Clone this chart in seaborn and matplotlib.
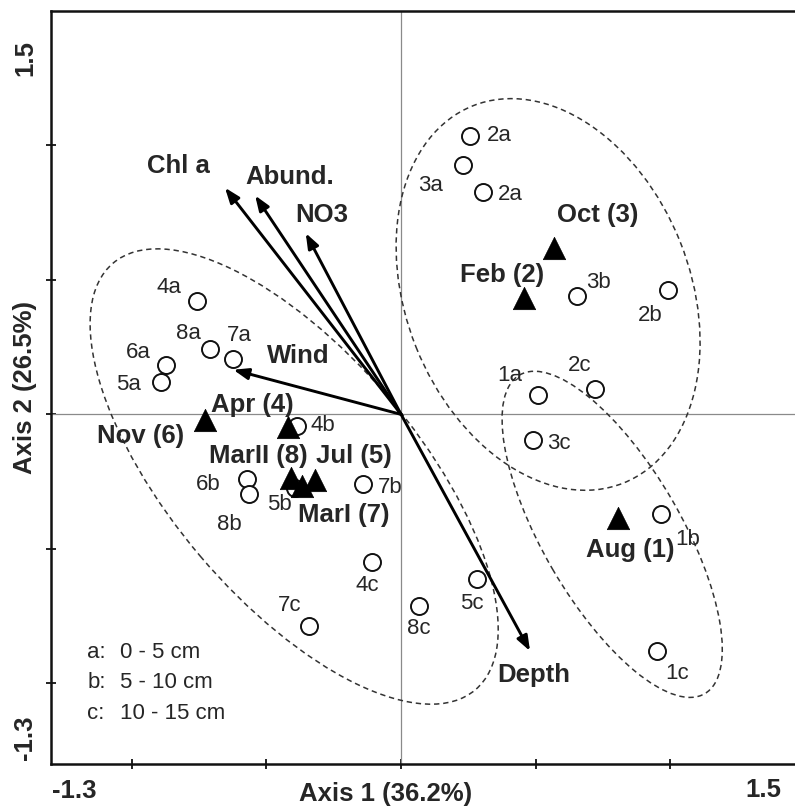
import numpy as np
import pandas as pd
import seaborn as sns
import matplotlib
matplotlib.use("Agg")
import matplotlib.pyplot as plt
from matplotlib.patches import Ellipse

# ---- sample scores (site + depth layer) ----
site_labels = ["2a", "3a", "2a", "3b", "2b", "1a", "2c", "3c", "1b", "1c", "5c", "8c",
               "4c", "7c", "7b", "6b", "8b", "5b", "4b", "4a", "8a", "7a", "6a", "5a"]
site_x = [0.256, 0.229, 0.306, 0.655, 0.993, 0.508, 0.720, 0.491, 0.965, 0.949, 0.281, 0.068,
          -0.109, -0.341, -0.140, -0.573, -0.564, -0.394, -0.387, -0.759, -0.709, -0.625, -0.874, -0.892]
site_y = [1.034, 0.926, 0.827, 0.440, 0.461, 0.071, 0.096, -0.097, -0.372, -0.878, -0.611, -0.714,
          -0.549, -0.788, -0.258, -0.239, -0.295, -0.273, -0.045, 0.421, 0.245, 0.207, 0.185, 0.122]

# ---- sampling months (centroids) ----
month_labels = ["Aug (1)", "Feb (2)", "Oct (3)", "Apr (4)", "Jul (5)", "Nov (6)", "MarI (7)", "MarII (8)"]
month_x = [0.806, 0.457, 0.568, -0.420, -0.319, -0.728, -0.368, -0.408]
month_y = [-0.387, 0.431, 0.617, -0.048, -0.245, -0.019, -0.268, -0.238]

# ---- environmental vectors ----
env_labels = ["Chl a", "Abund.", "NO3", "Wind", "Depth"]
env_x = [-0.654, -0.542, -0.354, -0.623, 0.479]
env_y = [0.843, 0.814, 0.674, 0.166, -0.880]

# ---- axes text ----
x_title = "Axis 1 (36.2%)"
y_title = "Axis 2 (26.5%)"
axis_min, axis_max = -1.3, 1.5
end_labels = ["-1.3", "1.5"]
depth_keys = ["a:", "b:", "c:"]
depth_ranges = ["0 - 5 cm", "5 - 10 cm", "10 - 15 cm"]

# ---- layout: label offsets in pixels (dx, dy) ----
site_offsets = [(29, 1), (-32, -20), (27, -3), (21, 14), (-18, -25), (-28, 20), (-15, 23),
                (26, -3), (27, -25), (21, -23), (-5, -25), (-1, -22), (-4, -23), (-20, 21),
                (27, -4), (-39, -6), (-20, -31), (-16, -17), (26, 1), (-28, 14), (-22, 15),
                (7, 23), (-27, 12), (-32, -3)]
month_offsets = [(12, -32), (-22, 23), (44, 33), (-36, 22), (39, 24), (-64, -16), (42, -29), (-33, 22)]
env_offsets = [(-47, 22), (35, 18), (16, 18), (65, 14), (4, -24)]

# grouping ellipses: centre, width, height, angle (data units)
groups = [((-0.397, -0.231), 2.08, 0.915, -49.7),
          ((0.546, 0.446), 1.51, 1.056, -68.3),
          ((0.784, -0.446), 1.37, 0.513, -59.9)]

sns.set_style("white")
plt.rcParams["font.family"] = ["Liberation Sans", "DejaVu Sans"]

fig = plt.figure(figsize=(7.95, 8.07), dpi=100)
W, H = 795, 807
ax = fig.add_axes([51 / W, 43 / H, 754 / W, 753 / H])
ax.set_xlim(axis_min, axis_max)
ax.set_ylim(axis_min, axis_max)

# centre cross
ax.axhline(0, color="#8a8a8a", lw=0.9, zorder=1)
ax.axvline(0, color="#8a8a8a", lw=0.9, zorder=1)

for (c, w, h, a) in groups:
    ax.add_patch(Ellipse(c, w, h, angle=a, fill=False, ec="#333333", lw=1.1,
                         ls=(0, (3.5, 2.5)), zorder=2))

# environmental arrows
for lab, x, y, off in zip(env_labels, env_x, env_y, env_offsets):
    ax.annotate("", xy=(x, y), xytext=(0, 0),
                arrowprops=dict(arrowstyle="-|>,head_length=0.75,head_width=0.28",
                                lw=2.1, color="black", shrinkA=0, shrinkB=0,
                                mutation_scale=12), zorder=3)
    ax.annotate(lab, xy=(x, y), xytext=off, textcoords="offset pixels",
                ha="center", va="center", fontsize=18.5, fontweight="bold", zorder=5)

sites = pd.DataFrame({"x": site_x, "y": site_y, "label": site_labels})
months = pd.DataFrame({"x": month_x, "y": month_y, "label": month_labels})

sns.scatterplot(data=sites, x="x", y="y", ax=ax, marker="o", s=150,
                facecolor="white", edgecolor="#111111", linewidth=1.4, zorder=4)
sns.scatterplot(data=months, x="x", y="y", ax=ax, marker="^", s=260,
                color="black", edgecolor="black", linewidth=0.5, zorder=4)

for lab, x, y, off in zip(site_labels, site_x, site_y, site_offsets):
    ax.annotate(lab, xy=(x, y), xytext=off, textcoords="offset pixels",
                ha="center", va="center", fontsize=16, zorder=5)
for lab, x, y, off in zip(month_labels, month_x, month_y, month_offsets):
    ax.annotate(lab, xy=(x, y), xytext=off, textcoords="offset pixels",
                ha="center", va="center", fontsize=18.5, fontweight="bold", zorder=5)

# depth layer key
for i, (k, r) in enumerate(zip(depth_keys, depth_ranges)):
    yy = -0.885 - i * 0.1135
    ax.text(-1.166, yy, k, ha="left", va="center", fontsize=16)
    ax.text(-1.043, yy, r, ha="left", va="center", fontsize=16)

# spines and ticks
for side in ["left", "bottom", "top", "right"]:
    ax.spines[side].set_color("#111111")
    ax.spines[side].set_linewidth(1.8)
ticks = [-1.0, -0.5, 0.0, 0.5, 1.0]
ax.set_xticks(ticks)
ax.set_yticks(ticks)
ax.set_xticklabels([])
ax.set_yticklabels([])
ax.tick_params(direction="inout", length=7, width=1.3, color="#111111",
               bottom=True, left=True, top=False, right=False)

# end-of-axis values
ax.text(-1.214, -1.402, end_labels[0], ha="center", va="center", fontsize=18.5,
        fontweight="bold", clip_on=False)
ax.text(1.345, -1.398, end_labels[1], ha="center", va="center", fontsize=18.5,
        fontweight="bold", clip_on=False)
ax.text(-1.396, 1.324, end_labels[1], ha="center", va="center", fontsize=18.5,
        fontweight="bold", rotation=90, clip_on=False)
ax.text(-1.396, -1.202, end_labels[0], ha="center", va="center", fontsize=18.5,
        fontweight="bold", rotation=90, clip_on=False)

ax.set_xlabel(x_title, fontsize=18.5, fontweight="bold")
ax.xaxis.set_label_coords((386 - 51) / 754, -0.024)
ax.set_ylabel(y_title, fontsize=18.5, fontweight="bold")
ax.yaxis.set_label_coords(-0.034, (764 - 387) / 753)
ax.yaxis.label.set_va("center")
ax.xaxis.label.set_va("top")

fig.savefig("out.png", dpi=100)
